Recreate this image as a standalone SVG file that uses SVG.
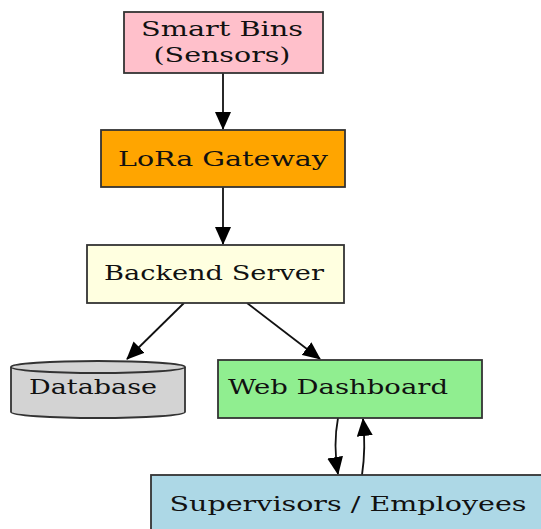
<svg xmlns="http://www.w3.org/2000/svg" width="541" height="529" viewBox="0 0 541 529">
<defs>
<style>
.box{stroke:#333;stroke-width:1.8}
.t{font-family:"DejaVu Serif","Liberation Serif",serif;font-size:21px;fill:#111}
.e{stroke:#111;stroke-width:1.8;fill:none}
</style>
<marker id="ahb" markerWidth="18" markerHeight="16" refX="17" refY="8" orient="auto" markerUnits="userSpaceOnUse" viewBox="0 0 18 16">
<path d="M0,0 L18,8 L0,16 z" fill="#000"/>
</marker>
</defs>
<rect width="541" height="529" fill="#fff"/>
<g id="connectors">
<line class="e" x1="223" y1="73" x2="223" y2="129" marker-end="url(#ahb)"/>
<line class="e" x1="223" y1="187" x2="223" y2="244" marker-end="url(#ahb)"/>
<line class="e" x1="184" y1="303" x2="127" y2="359" marker-end="url(#ahb)"/>
<line class="e" x1="247" y1="303" x2="320" y2="359" marker-end="url(#ahb)"/>
<path class="e" d="M338,418 Q333,445 338,474" marker-end="url(#ahb)"/>
<path class="e" d="M362,475 Q366,448 363,419" marker-end="url(#ahb)"/>
</g>
<g id="smart-bins">
<rect class="box" x="124" y="12" width="199" height="61" fill="#ffc0cb"/>
<text class="t" x="222" y="36" text-anchor="middle" textLength="162" lengthAdjust="spacingAndGlyphs">Smart Bins</text>
<text class="t" x="222" y="62" text-anchor="middle" textLength="137" lengthAdjust="spacingAndGlyphs">(Sensors)</text>
</g>
<g id="lora-gateway">
<rect class="box" x="101" y="130" width="244" height="57" fill="#ffa500"/>
<text class="t" x="223" y="166" text-anchor="middle" textLength="210" lengthAdjust="spacingAndGlyphs">LoRa Gateway</text>
</g>
<g id="backend-server">
<rect class="box" x="87" y="245" width="257" height="58" fill="#ffffe0"/>
<text class="t" x="214" y="280" text-anchor="middle" textLength="220" lengthAdjust="spacingAndGlyphs">Backend Server</text>
</g>
<g id="database">
<path class="box" d="M11,367 L11,412 A87,6 0 0 0 185,412 L185,367 A87,6 0 0 0 11,367 Z" fill="#d3d3d3"/>
<path class="box" d="M11,367 A87,6 0 0 0 185,367" fill="none"/>
<text class="t" x="93" y="394" text-anchor="middle" textLength="128" lengthAdjust="spacingAndGlyphs">Database</text>
</g>
<g id="web-dashboard">
<rect class="box" x="218" y="360" width="264" height="58" fill="#90ee90"/>
<text class="t" x="338" y="394" text-anchor="middle" textLength="220" lengthAdjust="spacingAndGlyphs">Web Dashboard</text>
</g>
<g id="supervisors">
<rect class="box" x="151" y="475" width="400" height="60" fill="#add8e6"/>
<text class="t" x="348" y="511" text-anchor="middle" textLength="357" lengthAdjust="spacingAndGlyphs">Supervisors / Employees</text>
</g>
</svg>
